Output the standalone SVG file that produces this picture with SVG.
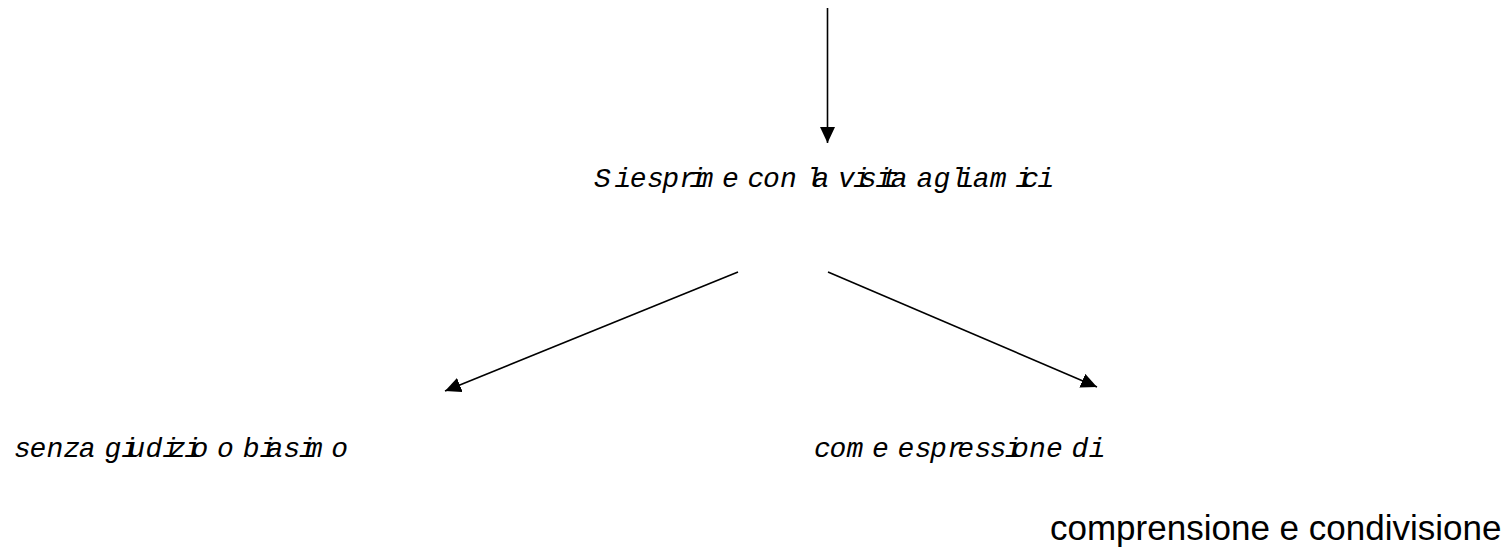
<svg xmlns="http://www.w3.org/2000/svg" width="1512" height="553" viewBox="0 0 1512 553">
<style>
.it{font-family:"Liberation Mono","DejaVu Sans Mono",monospace;font-style:italic;font-size:28px;fill:#000}
.big{font-family:"Liberation Sans",Arial,sans-serif;font-size:35px;fill:#000}
.conn{stroke:#000;stroke-width:1.6;fill:none}
</style>
<defs>
<marker id="ah" markerUnits="userSpaceOnUse" markerWidth="17" markerHeight="15" refX="16" refY="7.5" orient="auto">
<path d="M0,0 L16,7.5 L0,15 Z" fill="#000"/>
</marker>
</defs>
<rect width="1512" height="553" fill="#fff"/>
<g id="connectors">
<line class="conn" x1="827.5" y1="8" x2="827.5" y2="143" marker-end="url(#ah)"/>
<line class="conn" x1="738" y1="272" x2="445" y2="391" marker-end="url(#ah)"/>
<line class="conn" x1="828" y1="272" x2="1097" y2="387" marker-end="url(#ah)"/>
</g>
<g id="node-visita">
<text class="it" y="187" x="594 605 614.5 629.8 646.9 662.2 679.3 689.5 696.4 715 721.9 740 747.5 762.9 780 798 805.6 812.4 830.4 838 853.3 860.1 875.5 882.3 890.8 908.9 916.4 933.5 950.6 957.4 972.8 989.8 1005 1015.4 1022.2 1037.6">S iesprim e con la visita agliam ici</text>
</g>
<g id="node-senza">
<text class="it" y="457" x="14 29.4 46.4 63.5 78.8 96.9 104.4 121.5 128.3 145.4 162.5 169.3 184.6 191.4 209.5 217.1 235.1 242.7 259.7 266.5 283.6 299 305.8 320 331.3">senza giudizio o biasim o</text>
</g>
<g id="node-come">
<text class="it" y="457" x="814 829.4 846.4 866 872 890.1 897.6 914.7 930 947.1 957.3 974.4 989.7 1005.1 1011.9 1029 1046 1064.1 1071.6 1088.7">com e espressione di</text>
</g>
<g id="node-comprensione">
<text class="big" x="1050" y="540">comprensione e condivisione</text>
</g>
</svg>
